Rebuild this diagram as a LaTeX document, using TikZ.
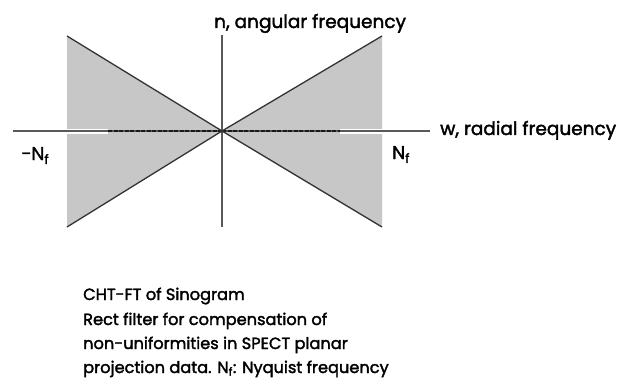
\documentclass[tikz,border=0pt]{standalone}
\usepackage{fontspec}
\setmainfont{Poppins}[FakeBold=2]
\begin{document}
\begin{tikzpicture}[x=1pt,y=-1pt,
  axisline/.style={draw=black!65,line width=1.3pt},
  diagline/.style={draw=black!80,line width=1.3pt},
  wedgefill/.style={fill=black!22,draw=none},
  gapband/.style={fill=white,draw=none},
  dashline/.style={draw=black!90,line width=2pt,dash pattern=on 4pt off 1.5pt},
  axislabel/.style={inner sep=0pt,anchor=base west,font=\fontsize{18.5}{22}\selectfont},
  captext/.style={inner sep=0pt,anchor=base west,font=\fontsize{16.2}{18}\selectfont}]
\useasboundingbox (0,0) rectangle (623,385);
% coordinates
\coordinate (c) at (222,131);
\coordinate (ltl) at (67,36);
\coordinate (lbot) at (67,227);
\coordinate (rtop) at (382,36);
\coordinate (rbot) at (382,227);
\coordinate (xl) at (13,131);
\coordinate (xr) at (430,131);
\coordinate (yt) at (222,35);
\coordinate (yb) at (222,227);
\coordinate (gl) at (108,131);
\coordinate (gr) at (340,131);
% shaded wedges
\path[wedgefill] (ltl) -- (c) -- (lbot) -- cycle;
\path[wedgefill] (rtop) -- (c) -- (rbot) -- cycle;
% white gaps
\path[gapband] (67,128.5) rectangle (108,133.5);
\path[gapband] (340,128.5) rectangle (382,133.5);
% axes
\draw[axisline] (xl) -- (xr);
\draw[axisline] (yt) -- (yb);
% dashed segments
\draw[dashline] (gl) -- (c);
\draw[dashline] (c) -- (gr);
% diagonals
\draw[diagline] (ltl) -- (c) -- (rbot);
\draw[diagline] (rtop) -- (c) -- (lbot);
% labels
\node[axislabel] (ny) at (214,28) {n, angular frequency};
\node[axislabel] (wx) at (440,135) {w, radial frequency};
\node[axislabel] (nfl) at (21,160) {−N\textsubscript{f}};
\node[axislabel] (nfr) at (392,159) {N\textsubscript{f}};
\node[captext] (c1) at (83,300) {CHT-FT of Sinogram};
\node[captext] (c2) at (83,325) {Rect filter for compensation of};
\node[captext] (c3) at (83,349) {non-uniformities in SPECT planar};
\node[captext] (c4) at (83,373) {projection data. N\textsubscript{f}: Nyquist frequency};
\end{tikzpicture}
\end{document}
